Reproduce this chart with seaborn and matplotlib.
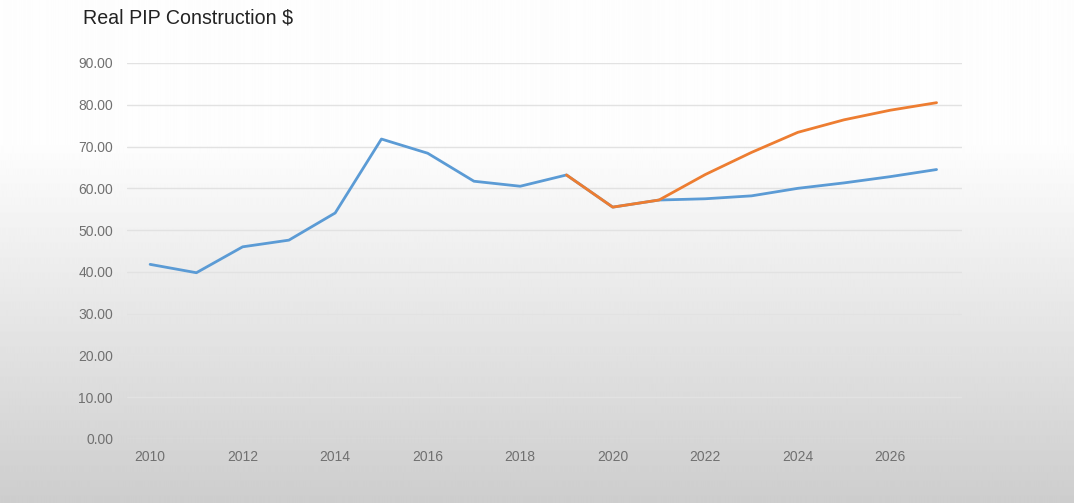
import numpy as np
import pandas as pd
import matplotlib
matplotlib.use("Agg")
import matplotlib.pyplot as plt
import seaborn as sns

years = list(range(2010, 2028))
baseline = [41.8, 39.8, 46.0, 47.6, 54.1, 71.8, 68.4, 61.7, 60.5, 63.2,
            55.5, 57.2, 57.5, 58.2, 60.0, 61.3, 62.8, 64.5]
forecast_years = list(range(2019, 2028))
forecast = [63.2, 55.5, 57.2, 63.3, 68.6, 73.4, 76.4, 78.7, 80.5]
y_ticks = [0, 10, 20, 30, 40, 50, 60, 70, 80, 90]
x_ticks = [2010, 2012, 2014, 2016, 2018, 2020, 2022, 2024, 2026]
title = "Real PIP Construction $"

sns.set_theme(style="white")
plt.rcParams['font.family'] = ['Liberation Sans', 'DejaVu Sans']

fig = plt.figure(figsize=(10.74, 5.03), dpi=100)

# background gradient
bg = fig.add_axes([0, 0, 1, 1], zorder=-10)
h = 503
rows = np.arange(h) / (h - 1)
vals = np.where(rows < 0.28, 0.995, 0.995 - (rows - 0.28) / 0.72 * 0.19)
grad = np.repeat(vals[:, None], 10, axis=1)
bg.imshow(grad, cmap="gray", vmin=0, vmax=1, aspect="auto", extent=[0, 1, 0, 1])
bg.axis("off")

ax = fig.add_axes([127 / 1074, 1 - 439 / 503, (962 - 127) / 1074, (439 - 63) / 503])
ax.patch.set_alpha(0)

df_base = pd.DataFrame({"year": years, "value": baseline})
df_fc = pd.DataFrame({"year": forecast_years, "value": forecast})
sns.lineplot(data=df_base, x="year", y="value", ax=ax, color="#5b9bd5", linewidth=2.0)
sns.lineplot(data=df_fc, x="year", y="value", ax=ax, color="#ed7d31", linewidth=2.0)

ax.set_xlim(2009.5, 2027.55)
ax.set_ylim(0, 90)
ax.set_yticks(y_ticks)
ax.set_yticklabels([f"{v:.2f}" for v in y_ticks])
ax.set_xticks(x_ticks)
ax.set_xticklabels([str(v) for v in x_ticks])
ax.tick_params(axis="both", colors="#707070", labelsize=10, length=0)
ax.tick_params(axis="y", pad=10)
ax.tick_params(axis="x", pad=8)
ax.grid(axis="y", color="#e2e2e2", linewidth=1)
ax.grid(axis="x", visible=False)
for s in ax.spines.values():
    s.set_visible(False)
ax.set_xlabel("")
ax.set_ylabel("")

fig.text(83 / 1074, 1 - 18 / 503, title, fontsize=14.1, color="#222222", va="center", ha="left")

fig.savefig("out.png", dpi=100)
